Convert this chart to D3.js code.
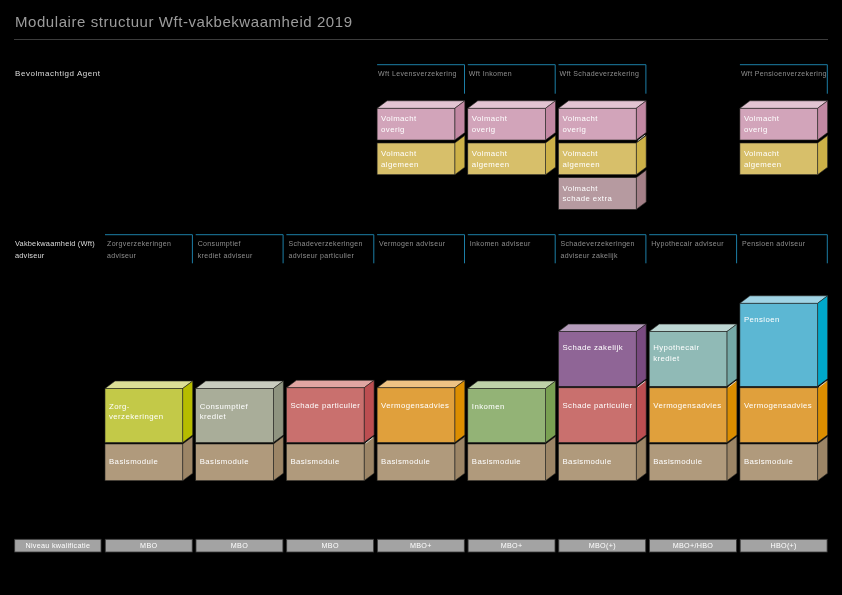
<!DOCTYPE html>
<html><head><meta charset="utf-8">
<script src="https://cdn.jsdelivr.net/npm/d3@7/dist/d3.min.js"></script>
<style>html,body{margin:0;background:#000}svg{display:block;will-change:transform}text{font-family:"Liberation Sans",sans-serif}</style>
</head><body><div id="c"></div>
<script>
const titleText = "Modulaire structuur Wft-vakbekwaamheid 2019";
const columns = ["c0","c1","c2","c3","c4","c5","c6","c7"];
const adviserHeaders = [["Zorgverzekeringen","adviseur"],["Consumptief","krediet adviseur"],["Schadeverzekeringen","adviseur particulier"],["Vermogen adviseur"],["Inkomen adviseur"],["Schadeverzekeringen","adviseur zakelijk"],["Hypothecair adviseur"],["Pensioen adviseur"]];
const adviserModules = [
 ["basis","zorg"],["basis","krediet"],["basis","particulier"],["basis","vermogen"],
 ["basis","inkomen"],["basis","particulier","zakelijk"],["basis","vermogen","hypotheek"],["basis","vermogen","pensioen"]];
const agentColumns = ["c3","c4","c5","c7"];
const agentHeaders = ["Wft Levensverzekering","Wft Inkomen","Wft Schadeverzekering","Wft Pensioenverzekering"];
const agentModules = [["overig","algemeen"],["overig","algemeen"],["overig","algemeen","extra"],["overig","algemeen"]];
const levels = ["MBO","MBO","MBO","MBO+","MBO+","MBO(+)","MBO+/HBO","HBO(+)"];
const moduleLabels = {basis:["Basismodule"],zorg:["Zorg-","verzekeringen"],krediet:["Consumptief","krediet"],particulier:["Schade particulier"],vermogen:["Vermogensadvies"],inkomen:["Inkomen"],zakelijk:["Schade zakelijk"],hypotheek:["Hypothecair","krediet"],pensioen:["Pensioen"],overig:["Volmacht","overig"],algemeen:["Volmacht","algemeen"],extra:["Volmacht","schade extra"]};
const moduleSizes = {basis:36.7,zorg:54,krediet:54,particulier:54.7,vermogen:54.7,inkomen:54,zakelijk:54.7,hypotheek:54.7,pensioen:83,overig:31.7,algemeen:31.7,extra:31.7};
const moduleFront = {basis:"#b09a7c",zorg:"#c3c948",krediet:"#a9ad99",particulier:"#c9706e",vermogen:"#e0a03c",inkomen:"#93b376",zakelijk:"#8f6596",hypotheek:"#90bab6",pensioen:"#5cb7d3",overig:"#d2a4ba",algemeen:"#d7bf6a",extra:"#b69aa0"};
const moduleTop = {zorg:"#dcdf96",krediet:"#c9ccbf",particulier:"#e0a5a2",vermogen:"#eec283",inkomen:"#bfd2a9",zakelijk:"#b59cbb",hypotheek:"#bdd6d3",pensioen:"#a0d4e5",overig:"#e2c4d2",basis:"#c9b9a3",algemeen:"#e5d59b",extra:"#cdb9bd"};
const moduleSide = {basis:"#9c8566",zorg:"#b6bc00",krediet:"#8f9480",particulier:"#bc4e51",vermogen:"#dc8e00",inkomen:"#79a052",zakelijk:"#794a80",hypotheek:"#75a9a7",pensioen:"#00a8cb",overig:"#c288a3",algemeen:"#cdb148",extra:"#a48088"};
const highlightSeams = ["c2:particulier","c5:zakelijk","c6:hypotheek","c7:pensioen"];
const highlightSeamsAgent = ["c5:overig"];

const W=842,H=595,depthX=10,depthY=7.5,gapLow=1.5,gapTop=3;
const svg=d3.select("#c").append("svg").attr("width",W).attr("height",H);
const x=d3.scaleBand().domain(columns).range([105,827.6]).paddingInner(3/90.7).paddingOuter(0);
const bw=x.bandwidth(), fw=bw-depthX;
const yLow=d3.scaleLinear().domain([0,200]).range([480.7,280.7]);
const yTop=d3.scaleLinear().domain([0,100]).range([108.3,208.3]);

svg.append("text").text(titleText).attr("x",15).attr("y",27).attr("font-size",15).attr("letter-spacing",.56).attr("fill","#9c9c9c");
svg.append("line").attr("x1",14).attr("x2",828).attr("y1",39.5).attr("y2",39.5).attr("stroke","#3c3c3c");

function leftLabel(lines,y,size,spacing){const t=svg.append("text").attr("font-size",size).attr("fill","#dcdcdc").attr("letter-spacing",spacing);
 lines.forEach((l,i)=>t.append("tspan").attr("x",15).attr("y",y+i*12).text(l));}
leftLabel(["Bevolmachtigd Agent"],76,8,.55);
leftLabel(["Vakbekwaamheid (Wft)","adviseur"],246,7.4,.2);

function header(col,lines,y0,h){
 const xl=x(col),xr=x(col)+bw-.3;
 svg.append("path").attr("d",d3.line()([[xl,y0],[xr,y0],[xr,y0+h]])).attr("fill","none").attr("stroke","#1c7ea6").attr("stroke-width",1);
 const t=svg.append("text").attr("font-size",7).attr("fill","#8e8e8e").attr("letter-spacing",.35);
 lines.forEach((l,i)=>t.append("tspan").attr("x",xl+(y0<100?1:2)).attr("y",y0+(y0<100?11.7:11.3)+i*12).text(l));
}
columns.forEach((c,i)=>header(c,adviserHeaders[i],234.7,28.6));
agentColumns.forEach((c,i)=>header(c,[agentHeaders[i]],64.7,29));

function block(g,col,key,yFront,yBottom,dy,hasTop,seam){
 const xl=x(col),xr=xl+fw,line=d3.line();
 const ink="#262624";
 if(hasTop) g.append("path").attr("d",line([[xl,yFront],[xl+depthX,yFront-depthY],[xr+depthX,yFront-depthY],[xr,yFront]])+"Z").attr("fill",moduleTop[key]).attr("stroke",ink).attr("stroke-width",.6);
 g.append("path").attr("d",line([[xr,yFront],[xr+depthX,yFront-depthY],[xr+depthX,yBottom-depthY],[xr,yBottom]])+"Z").attr("fill",moduleSide[key]).attr("stroke",ink).attr("stroke-width",.6);
 g.append("rect").attr("x",xl).attr("y",yFront).attr("width",fw).attr("height",yBottom-yFront).attr("fill",moduleFront[key]).attr("stroke",ink).attr("stroke-width",.6);
 if(seam) g.append("path").attr("d",line([[xr+1.5,yBottom+.8],[xr+9,yBottom-5]])).attr("stroke","#f4f4f4").attr("stroke-width",.8).attr("fill","none");
 const t=g.append("text").attr("font-size",7.8).attr("fill","#fff").attr("letter-spacing",.42);
 moduleLabels[key].forEach((l,i)=>t.append("tspan").attr("x",xl+4).attr("y",yFront+dy+i*10.7).text(l));
}
const low=svg.append("g");
columns.forEach((c,i)=>{
 let acc=0;
 adviserModules[i].forEach((k,j)=>{
  const yb=yLow(acc)-gapLow*j, yf=yLow(acc+moduleSizes[k])-gapLow*j;
  const top=j===adviserModules[i].length-1;
  block(low,c,k,yf,yb,j===2?18.5:20,top,highlightSeams.includes(c+":"+k));
  acc+=moduleSizes[k];
 });
});
const up=svg.append("g");
agentColumns.forEach((c,i)=>{
 const order=agentModules[i];
 const pos=order.map((k,j)=>d3.sum(order.slice(0,j),m=>moduleSizes[m]));
 for(let j=order.length-1;j>=0;j--){
  const k=order[j],yf=yTop(pos[j])+j*gapTop,yb=yTop(pos[j]+moduleSizes[k])+j*gapTop;
  block(up,c,k,yf,yb,13,j===0,highlightSeamsAgent.includes(c+":"+k));
 }
});

function levelCell(x0,w,label){
 svg.append("rect").attr("x",x0).attr("y",539.3).attr("width",w).attr("height",12.7).attr("fill","#a3a3a3").attr("stroke","#3a3a3a").attr("stroke-width",.8);
 svg.append("text").text(label).attr("x",x0+w/2).attr("y",548.3).attr("text-anchor","middle").attr("font-size",7.2).attr("letter-spacing",.3).attr("fill","#fff");
}
levelCell(14.7,86.3,"Niveau kwalificatie");
columns.forEach((c,i)=>levelCell(x(c)+.3,bw-.8,levels[i]));
</script></body></html>
